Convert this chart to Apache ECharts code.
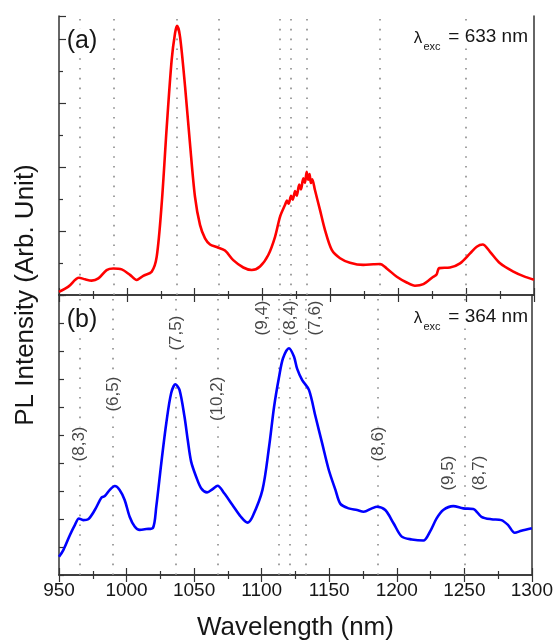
<!DOCTYPE html>
<html>
<head>
<meta charset="utf-8">
<script src="https://cdn.jsdelivr.net/npm/echarts@6/dist/echarts.min.js"></script>
<style>
  html, body { margin: 0; padding: 0; background: #fff; }
  #main { width: 556px; height: 642px; }
</style>
</head>
<body>
<div id="main"></div>
<script>
// (a) lambda_exc = 633 nm
var wlA = [950, 956.9, 964.7, 969.2, 974.1, 979, 985.1, 990, 996.2, 1002.3, 1007.2, 1012.1, 1018.3, 1022,
  1025.7, 1029.4, 1033, 1035.5, 1037, 1039.2, 1042.9, 1046.5, 1050.2, 1053.9, 1057.6, 1061.3, 1066.2,
  1072.3, 1078.4, 1085.8, 1092, 1098.1, 1104.2, 1109.2, 1112.9, 1116.5, 1118, 1119.2, 1121, 1122.2,
  1124, 1125.2, 1127, 1128.3, 1130, 1131.2, 1132.5, 1133.6, 1134.6, 1135.6, 1136.6, 1138.6, 1142.3,
  1146, 1151, 1157.1, 1164.4, 1174.2, 1181.6, 1186.6, 1191.5, 1198.9, 1206.2, 1212.3, 1218.5, 1225.8,
  1228.2, 1230.2, 1238.1, 1245.5, 1252.9, 1257.8, 1262.2, 1267.6, 1275, 1284.8, 1292.2, 1300];
var plA = [0.10, 0.26, 0.54, 0.49, 0.45, 0.52, 0.78, 0.83, 0.80, 0.63, 0.47, 0.60, 0.73, 1.20,
  2.87, 5.26, 7.34, 8.18, 8.41, 8.07, 6.51, 4.74, 3.07, 2.19, 1.77, 1.58, 1.50,
  1.39, 1.09, 0.86, 0.78, 0.89, 1.25, 1.82, 2.45, 2.81, 2.95, 2.85, 3.10, 2.98,
  3.25, 3.10, 3.45, 3.30, 3.65, 3.50, 3.85, 3.60, 3.78, 3.50, 3.62, 3.28, 2.66,
  2.03, 1.41, 1.15, 1.01, 0.94, 0.96, 0.97, 0.83, 0.57, 0.39, 0.29, 0.34, 0.57,
  0.64, 0.84, 0.86, 0.99, 1.30, 1.51, 1.58, 1.35, 0.99, 0.73, 0.59, 0.48];

// (b) lambda_exc = 364 nm
var wlB = [950, 953.2, 958.1, 961.8, 964.7, 967.9, 971.6, 976.5, 981.5, 983.9, 987.6, 991.3, 994.9,
  998.6, 1002.3, 1006, 1009.7, 1014.6, 1019.5, 1022, 1025.7, 1029.4, 1033, 1036.2, 1039.2, 1042.9,
  1045.3, 1047.8, 1051.5, 1055.2, 1059.6, 1063.7, 1067.4, 1072.3, 1078.4, 1084.6, 1089.5, 1093.2,
  1100.6, 1105.5, 1109.2, 1112.9, 1115.8, 1120.2, 1123.9, 1126.3, 1130, 1135, 1139.9, 1144.8, 1149.7,
  1154.6, 1158.3, 1164.4, 1170.6, 1175.5, 1181.6, 1185.3, 1191.5, 1197.6, 1203.7, 1211.1, 1219.7,
  1224.6, 1229.5, 1234.4, 1241.8, 1249.2, 1256.6, 1262.7, 1270, 1277.4, 1282.3, 1287.3, 1292.2, 1300];
var plB = [0.65, 0.89, 1.43, 1.79, 2.02, 1.96, 1.99, 2.32, 2.77, 2.82, 3.04, 3.18, 3.04,
  2.68, 2.08, 1.73, 1.61, 1.64, 1.68, 2.44, 3.99, 5.42, 6.49, 6.81, 6.61, 5.65,
  4.82, 4.05, 3.51, 3.10, 2.95, 3.07, 3.19, 2.92, 2.50, 2.08, 1.87, 2.08,
  3.04, 4.58, 6.01, 7.08, 7.74, 8.10, 7.80, 7.36, 6.96, 6.61, 5.65, 4.70, 3.75,
  3.04, 2.54, 2.38, 2.32, 2.26, 2.38, 2.44, 2.32, 1.85, 1.37, 1.27, 1.23,
  1.55, 2.02, 2.32, 2.46, 2.38, 2.36, 2.08, 1.99, 1.96, 1.79, 1.51, 1.58, 1.67];

// dotted guide lines (nm)
var guideLines = [965, 990, 1036.5, 1067.5, 1112.5, 1120.5, 1132.5, 1186, 1250];

// chirality labels in panel (b)
var chiralNames = ['(8,3)', '(6,5)', '(7,5)', '(10,2)', '(9,4)', '(8,4)', '(7,6)', '(8,6)', '(9,5)', '(8,7)'];
var chiralX = [964.7, 990, 1036.7, 1067.4, 1100.6, 1121.5, 1139.4, 1186, 1238, 1260.8];
var chiralY = [4.68, 6.46, 8.64, 6.29, 9.18, 9.18, 9.18, 4.68, 3.64, 3.64];

var FONT = 'Liberation Sans, Arial, sans-serif';
var AX = '#333';
var TXT = '#161616';

var chart = echarts.init(document.getElementById('main'));

function pairs(xs, ys) {
  return xs.map(function (x, i) { return [x, ys[i]]; });
}

function xAx(grid, pos, showLabel) {
  var a = {
    type: 'value', gridIndex: grid, position: pos, min: 950, max: 1300, interval: 50,
    axisLine: { show: true, lineStyle: { color: AX, width: 1.5 } },
    axisTick: { show: true, inside: true, length: 7, lineStyle: { color: AX, width: 1.2 } },
    minorTick: { show: true, splitNumber: 2, length: 4, lineStyle: { color: AX, width: 1.2 } },
    splitLine: { show: false },
    axisLabel: { show: showLabel, color: TXT, fontSize: 19, fontFamily: FONT, margin: 6,
      formatter: function (v) { return String(v); } }
  };
  if (showLabel) {
    a.name = 'Wavelength (nm)';
    a.nameLocation = 'middle';
    a.nameGap = 40;
    a.nameTextStyle = { color: TXT, fontSize: 26, fontFamily: FONT };
  }
  return a;
}

function yAx(grid, pos, max, interval, tickLen, minor) {
  return {
    type: 'value', gridIndex: grid, position: pos, min: 0, max: max, interval: interval,
    axisLine: { show: true, lineStyle: { color: AX, width: 1.5 } },
    axisTick: { show: tickLen > 0, inside: true, length: tickLen, lineStyle: { color: AX, width: 1.2 } },
    minorTick: { show: !!minor, splitNumber: 2, length: 4, lineStyle: { color: AX, width: 1.2 } },
    splitLine: { show: false },
    axisLabel: { show: false }
  };
}

function guideSeries(xi, yi) {
  return {
    type: 'line', xAxisIndex: xi, yAxisIndex: yi, data: [], z: 1, silent: true,
    markLine: {
      silent: true, symbol: ['none', 'none'], animation: false,
      label: { show: false },
      lineStyle: { color: '#8a8a8a', width: 1.6, type: [1.6, 8.2] },
      data: guideLines.map(function (v) { return { xAxis: v }; })
    }
  };
}

function txt(x, y, s, size, align) {
  return { type: 'text', z: 50, x: x, y: y,
    style: { text: s, fontSize: size, fontFamily: FONT, fill: TXT, align: align,
      verticalAlign: 'middle', backgroundColor: '#fff' } };
}

var option = {
  backgroundColor: '#fff',
  animation: false,
  grid: [
    { left: 59, top: 16, width: 475, height: 279 },
    { left: 59, top: 295, width: 475, height: 280 }
  ],
  xAxis: [
    xAx(0, 'bottom', false),
    xAx(0, 'top', false),
    xAx(1, 'bottom', true),
    xAx(1, 'top', false)
  ],
  yAxis: [
    yAx(0, 'left', 8.72, 2, 7, true),
    yAx(0, 'right', 8.72, 2, 0, false),
    yAx(1, 'left', 10, 1, 5, false),
    yAx(1, 'right', 10, 1, 0, false)
  ],
  graphic: [
    txt(82, 41, '(a)', 25, 'center'),
    txt(82, 320, '(b)', 25, 'center'),
    { type: 'text', z: 50, x: 26, y: 295, rotation: Math.PI / 2,
      style: { text: 'PL Intensity (Arb. Unit)', fontSize: 26, fontFamily: FONT, fill: TXT,
        align: 'center', verticalAlign: 'middle' } },
    txt(418, 38, 'λ', 17, 'center'),
    txt(432, 47, 'exc', 11, 'center'),
    txt(528, 37, '= 633 nm', 19, 'right'),
    txt(418, 318, 'λ', 17, 'center'),
    txt(432, 327, 'exc', 11, 'center'),
    txt(528, 317, '= 364 nm', 19, 'right')
  ],
  series: [
    guideSeries(0, 0),
    guideSeries(2, 2),
    {
      name: '633 nm', type: 'line', xAxisIndex: 0, yAxisIndex: 0, z: 5,
      data: pairs(wlA, plA), showSymbol: false, smooth: 0.3,
      lineStyle: { color: '#ff0000', width: 2.6 }
    },
    {
      name: '364 nm', type: 'line', xAxisIndex: 2, yAxisIndex: 2, z: 5,
      data: pairs(wlB, plB), showSymbol: false, smooth: 0.3,
      lineStyle: { color: '#0000ff', width: 2.6 }
    },
    {
      type: 'scatter', xAxisIndex: 2, yAxisIndex: 2, z: 6, silent: true,
      symbolSize: 0,
      data: chiralNames.map(function (n, i) { return { name: n, value: [chiralX[i], chiralY[i]] }; }),
      label: {
        show: true, position: 'inside', rotate: 90, formatter: '{b}',
        color: TXT, fontSize: 17, fontFamily: FONT, backgroundColor: '#fff'
      }
    }
  ]
};

chart.setOption(option);
</script>
</body>
</html>
